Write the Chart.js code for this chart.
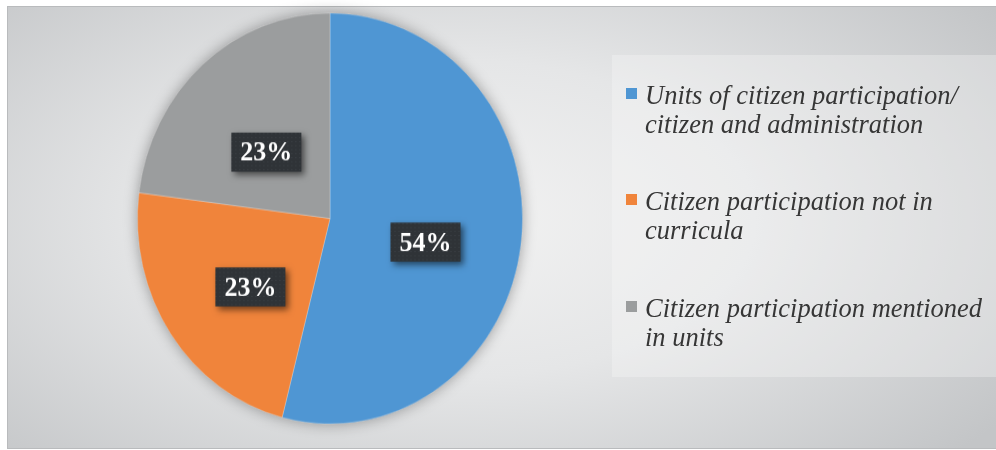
<!DOCTYPE html>
<html>
<head>
<meta charset="utf-8">
<script src="https://cdn.jsdelivr.net/npm/chart.js"></script>
<style>
  html, body { margin: 0; padding: 0; background: #fff; }
  #frame {
    position: absolute; left: 7px; top: 6px; width: 988px; height: 441px;
    border: 1px solid #b9bbbd;
    background: radial-gradient(ellipse 68% 80% at 45% 48%, #f2f2f2 0%, #e5e6e7 45%, #c3c5c7 100%);
    overflow: hidden;
  }
  #pieWrap {
    position: absolute; left: 0; top: 0; width: 660px; height: 450px;
    transform-origin: 330px 218.5px;
    transform: scaleY(1.067);
  }
  #legendBox {
    position: absolute; left: 612px; top: 55px; width: 384px; height: 322px;
    background: rgba(248, 248, 248, 0.32);
  }
  .item { position: absolute; left: 0; }
  .sw { position: absolute; left: 14px; top: 7px; width: 11px; height: 11px; }
  .txt {
    position: absolute; left: 33px; white-space: nowrap;
    font: italic 26.5px "Liberation Serif", "Times New Roman", serif;
    line-height: 27px; color: #363636;
    transform-origin: 0 0; transform: scaleY(1.067);
  }
</style>
</head>
<body>
<div id="frame"></div>
<div id="pieWrap"><canvas id="pie" width="660" height="450"></canvas></div>
<div id="legendBox"></div>
<script>
// kategoriyalar va qiymatlar
const categories = [
  ['Units of citizen participation/', 'citizen and administration'],
  ['Citizen participation not in', 'curricula'],
  ['Citizen participation mentioned', 'in units']
];
const shares = [54, 23, 23];
const sliceColors = ['#4f96d3', '#f0843b', '#9b9d9e'];

const stretch = 1.067; // rasm biroz cho'zilgan

// pie soyasi
const pieShadow = {
  id: 'pieShadow',
  beforeDatasetsDraw(chart) {
    const a = chart.getDatasetMeta(0).data[0];
    if (!a) return;
    const c = chart.ctx;
    c.save();
    c.shadowColor = 'rgba(0,0,0,0.35)';
    c.shadowBlur = 14;
    c.fillStyle = '#999';
    c.beginPath();
    c.arc(a.x, a.y, a.outerRadius, 0, Math.PI * 2);
    c.fill();
    c.restore();
  }
};

// qora yorliqlar (foizlar)
const dots = document.createElement('canvas');
dots.width = 4; dots.height = 4;
const dctx = dots.getContext('2d');
dctx.fillStyle = '#2f3337';
dctx.fillRect(0, 0, 4, 4);
dctx.fillStyle = '#41464b';
dctx.fillRect(1, 1, 1, 1);

const boxLabels = {
  id: 'boxLabels',
  afterDatasetsDraw(chart) {
    const c = chart.ctx;
    const total = shares.reduce((s, v) => s + v, 0);
    chart.getDatasetMeta(0).data.forEach((arc, i) => {
      const p = arc.tooltipPosition();
      const txt = Math.round(shares[i] / total * 100) + '%';
      c.save();
      c.translate(p.x, p.y + 10); // Excel yorliqlari biroz pastroq
      c.scale(1, 1 / stretch);
      const w = 70, h = 39;
      c.shadowColor = 'rgba(0,0,0,0.55)';
      c.shadowBlur = 6;
      c.shadowOffsetX = 3;
      c.shadowOffsetY = 3;
      c.fillStyle = c.createPattern(dots, 'repeat');
      c.fillRect(-w / 2, -h / 2, w, h);
      c.shadowColor = 'transparent';
      c.fillStyle = '#ffffff';
      c.font = 'bold 26px "Liberation Serif", "Times New Roman", serif';
      c.textAlign = 'center';
      c.textBaseline = 'middle';
      c.fillText(txt, 0, 2);
      c.restore();
    });
  }
};

new Chart(document.getElementById('pie').getContext('2d'), {
  type: 'pie',
  data: {
    labels: categories,
    datasets: [{
      data: shares,
      backgroundColor: sliceColors,
      borderColor: 'rgba(255,255,255,0.25)',
      borderWidth: 1
    }]
  },
  options: {
    responsive: false,
    animation: false,
    layout: { padding: { left: 137, right: 137, top: 25.5, bottom: 38.5 } },
    plugins: { legend: { display: false }, tooltip: { enabled: false } }
  },
  plugins: [pieShadow, boxLabels]
});

// legenda (HTML)
const legendTops = [26, 132, 239];
const box = document.getElementById('legendBox');
categories.forEach((lines, i) => {
  const it = document.createElement('div');
  it.className = 'item';
  it.style.top = legendTops[i] + 'px';
  it.innerHTML = `<div class="sw" style="background:${sliceColors[i]}"></div>
    <div class="txt">${lines.join('<br>')}</div>`;
  box.appendChild(it);
});
</script>
</body>
</html>
